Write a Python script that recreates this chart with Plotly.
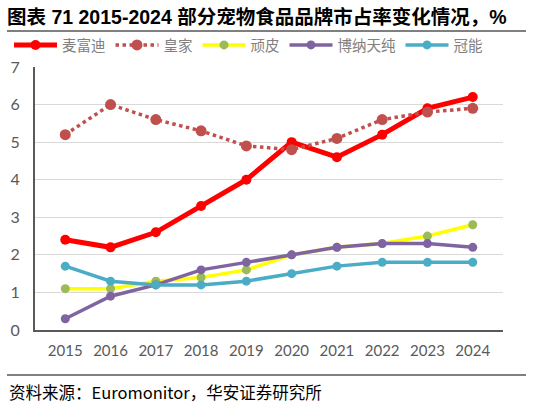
import plotly.graph_objects as go

years = ["2015", "2016", "2017", "2018", "2019", "2020", "2021", "2022", "2023", "2024"]
maifudi = [2.4, 2.2, 2.6, 3.3, 4.0, 5.0, 4.6, 5.2, 5.9, 6.2]
royal = [5.2, 6.0, 5.6, 5.3, 4.9, 4.8, 5.1, 5.6, 5.8, 5.9]
wanpi = [1.1, 1.1, 1.3, 1.4, 1.6, 2.0, 2.2, 2.3, 2.5, 2.8]
bona = [0.3, 0.9, 1.2, 1.6, 1.8, 2.0, 2.2, 2.3, 2.3, 2.2]
proplan = [1.7, 1.3, 1.2, 1.2, 1.3, 1.5, 1.7, 1.8, 1.8, 1.8]

W, H = 533, 406
L, R, T, B = 35, 30, 67, 76
pw, ph = W - L - R, H - T - B


def px_to_paper_x(px):
    return (px - L) / pw


def px_to_paper_y(py):
    return (H - B - py) / ph


fig = go.Figure()
fig.add_trace(go.Scatter(x=years, y=maifudi, name="麦富迪", mode="lines+markers",
                         line=dict(color="#FF0000", width=5),
                         marker=dict(color="#FF0000", size=10)))
fig.add_trace(go.Scatter(x=years, y=royal, name="皇家", mode="lines+markers",
                         line=dict(color="#C0504D", width=3.5, dash="dot"),
                         marker=dict(color="#C0504D", size=11)))
fig.add_trace(go.Scatter(x=years, y=wanpi, name="顽皮", mode="lines+markers",
                         line=dict(color="#FFFF00", width=3.5),
                         marker=dict(color="#9BBB59", size=9)))
fig.add_trace(go.Scatter(x=years, y=bona, name="博纳天纯", mode="lines+markers",
                         line=dict(color="#8064A2", width=3.5),
                         marker=dict(color="#8064A2", size=9)))
fig.add_trace(go.Scatter(x=years, y=proplan, name="冠能", mode="lines+markers",
                         line=dict(color="#4BACC6", width=3.5),
                         marker=dict(color="#4BACC6", size=9)))

font_cjk = "Noto Sans CJK SC, Noto Sans, sans-serif"
font_num = "Lato, Liberation Sans, sans-serif"
fig.update_layout(
    width=W, height=H,
    margin=dict(l=L, r=R, t=T, b=B, autoexpand=False),
    paper_bgcolor="white", plot_bgcolor="white",
    font=dict(family=font_cjk, color="#595959", size=13),
    title=dict(text="<b>图表 71 2015-2024 部分宠物食品品牌市占率变化情况，%</b>",
               xref="container", yref="container", x=7 / W, y=1 - 17 / H,
               xanchor="left", yanchor="middle",
               font=dict(family="Liberation Sans, Noto Sans CJK SC, sans-serif", size=19.5, color="black")),
    legend=dict(orientation="h", x=px_to_paper_x(9), y=px_to_paper_y(45),
                xanchor="left", yanchor="middle",
                font=dict(size=14.5, color="#808080", family=font_cjk),
                itemwidth=43, tracegroupgap=0, bgcolor="rgba(0,0,0,0)"),
    showlegend=True,
    xaxis=dict(type="category", showline=True, linecolor="#595959", linewidth=2,
               showgrid=False, ticks="", ticklabelstandoff=6,
               tickfont=dict(size=15, color="#595959", family=font_num)),
    yaxis=dict(range=[0, 7], dtick=1, showline=True, linecolor="#595959", linewidth=2,
               showgrid=True, gridcolor="#D9D9D9", gridwidth=1, ticks="",
               zeroline=False, ticklabelstandoff=10,
               tickfont=dict(size=16, color="#595959", family=font_num)),
)

fig.add_shape(type="line", xref="paper", yref="paper",
              x0=px_to_paper_x(7), x1=px_to_paper_x(526),
              y0=px_to_paper_y(31), y1=px_to_paper_y(31),
              line=dict(color="black", width=1))
fig.add_shape(type="line", xref="paper", yref="paper",
              x0=px_to_paper_x(7), x1=px_to_paper_x(526),
              y0=px_to_paper_y(375), y1=px_to_paper_y(375),
              line=dict(color="black", width=1))
fig.add_annotation(text="资料来源：Euromonitor，华安证券研究所", xref="paper", yref="paper",
                   x=px_to_paper_x(7), y=px_to_paper_y(392), xanchor="left", yanchor="middle",
                   showarrow=False, font=dict(size=16.5, color="black", family=font_cjk))

fig.write_html("out.html", config={"displayModeBar": False},
               post_script="document.body.style.margin='0px';")
